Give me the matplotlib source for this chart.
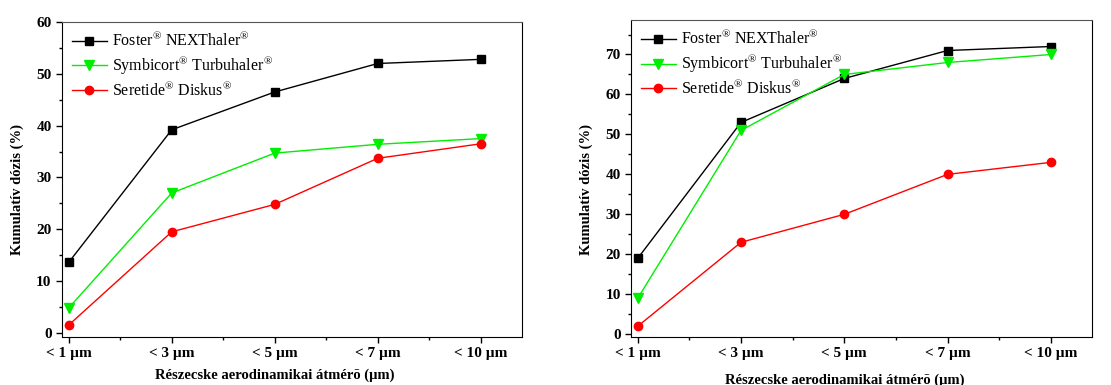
import numpy as np
import matplotlib
matplotlib.use('Agg')
import matplotlib.pyplot as plt
from matplotlib.ticker import MultipleLocator
from matplotlib.transforms import blended_transform_factory

plt.rcParams['font.family'] = ['Liberation Serif', 'DejaVu Serif']
plt.rcParams['mathtext.fontset'] = 'custom'
plt.rcParams['mathtext.rm'] = 'Liberation Serif'

categories = ['< 1 µm', '< 3 µm', '< 5 µm', '< 7 µm', '< 10 µm']
names = ['Foster$^{\\mathrm{®}}$ NEXThaler$^{\\mathrm{®}}$',
         'Symbicort$^{\\mathrm{®}}$ Turbuhaler$^{\\mathrm{®}}$',
         'Seretide$^{\\mathrm{®}}$ Diskus$^{\\mathrm{®}}$']

# left panel
foster_l    = [13.6, 39.2, 46.5, 52.0, 52.8]
symbicort_l = [4.8, 27.0, 34.7, 36.4, 37.5]
seretide_l  = [1.5, 19.5, 24.8, 33.7, 36.5]

# right panel
foster_r    = [19, 53, 64, 71, 72]
symbicort_r = [9, 51, 65, 68, 70]
seretide_r  = [2, 23, 30, 40, 43]

styles = [dict(color='black', marker='s', ms=5.5),
          dict(color='#00ee00', marker='v', ms=7.5),
          dict(color='red', marker='o', ms=6)]

fig = plt.figure(figsize=(11.11, 3.85), dpi=100)
ax1 = fig.add_axes([0.0558, 0.1247, 0.414, 0.818])
ax2 = fig.add_axes([0.568, 0.1247, 0.415, 0.823])

def draw(ax, series, ylim, ystep, xlab_y):
    x = np.arange(len(categories))
    for s, n, st in zip(series, names, styles):
        ax.plot(x, s, lw=1, label=n, markeredgecolor=st['color'], **st)
    ax.set_xlim(-0.065, 4.4)
    ax.set_ylim(*ylim)
    ax.set_xticks(x)
    ax.set_xticklabels(categories, fontweight='bold', fontsize=11)
    ax.xaxis.set_minor_locator(MultipleLocator(0.5))
    ax.yaxis.set_major_locator(MultipleLocator(ystep))
    ax.yaxis.set_minor_locator(MultipleLocator(ystep / 2))
    for lab in ax.get_yticklabels():
        lab.set_fontweight('bold')
        lab.set_fontsize(11)
    ax.tick_params(direction='out', which='major', length=4, width=1)
    ax.tick_params(direction='out', which='minor', length=2, width=1)
    ax.tick_params(top=False, right=False)
    ax.spines['top'].set_color('#555555')
    ax.set_ylabel('Kumulatív dózis (%)', fontweight='bold', fontsize=10.5)
    ax.yaxis.set_label_coords(-0.083, 0.467)
    ax.set_xlabel('Részecske aerodinamikai átmérõ (µm)', fontweight='bold', fontsize=10.5,
                  va='center')
    ax.xaxis.set_label_coords(2, xlab_y, transform=blended_transform_factory(ax.transData, ax.transAxes))
    ax.legend(loc='upper left', frameon=False, fontsize=11.5, handlelength=2.2,
              borderaxespad=0.2, labelspacing=0.25, handletextpad=0.3)

draw(ax1, [foster_l, symbicort_l, seretide_l], (-0.8, 60), 10, -0.12)
draw(ax2, [foster_r, symbicort_r, seretide_r], (-0.7, 78.6), 10, -0.135)

fig.savefig('out.png', dpi=100)
